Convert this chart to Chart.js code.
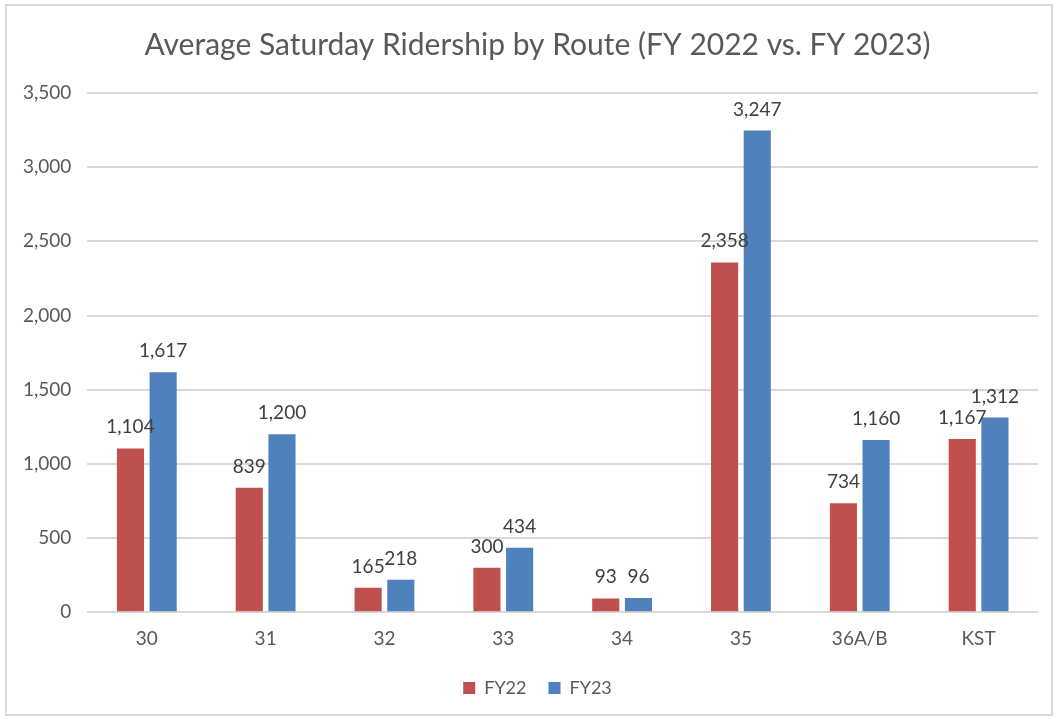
<!DOCTYPE html>
<html>
<head>
<meta charset="utf-8">
<script src="https://cdn.jsdelivr.net/npm/chart.js@4"></script>
<style>
    body { margin: 0; background: #fff; }
    #box {
        position: absolute;
        left: 5px; top: 4px;
        width: 1044px; height: 708px;
        border: 2px solid #d9d9d9;
        background: #fff;
    }
</style>
</head>
<body>
<div id="box"><canvas id="ridershipChart"></canvas></div>
<script>
const routes = ['30', '31', '32', '33', '34', '35', '36A/B', 'KST'];
const fy22 = [1104, 839, 165, 300, 93, 2358, 734, 1167];
const fy23 = [1617, 1200, 218, 434, 96, 3247, 1160, 1312];

const FONT = 'Lato, Carlito, Calibri, sans-serif';

// draws the number above each bar
const barLabels = {
    id: 'barLabels',
    afterLayout(chart) {
        // y labels sit partly in the left padding, widen the label clip box
        chart.scales.y.left -= 30;
    },
    afterDatasetsDraw(chart) {
        const ctx = chart.ctx;
        ctx.save();
        ctx.font = '19px ' + FONT;
        ctx.fillStyle = '#404040';
        ctx.textAlign = 'center';
        ctx.textBaseline = 'alphabetic';
        chart.data.datasets.forEach((ds, i) => {
            chart.getDatasetMeta(i).data.forEach((bar, j) => {
                ctx.fillText(ds.data[j].toLocaleString('en-US'), bar.x, bar.y - 15);
            });
        });
        ctx.restore();
    }
};

window.onload = () => {
    const ctx = document.getElementById('ridershipChart').getContext('2d');
    new Chart(ctx, {
        type: 'bar',
        data: {
            labels: routes,
            datasets: [
                { label: 'FY22', data: fy22, backgroundColor: '#c0504d' },
                { label: 'FY23', data: fy23, backgroundColor: '#4f81bd' }
            ]
        },
        options: {
            responsive: true,
            maintainAspectRatio: false,
            animation: false,
            categoryPercentage: 0.55,
            barPercentage: 0.83,
            layout: { padding: { left: 30, right: 13, top: 12, bottom: 7 } },
            plugins: {
                title: {
                    display: true,
                    text: 'Average Saturday Ridership by Route (FY 2022 vs. FY 2023)',
                    color: '#595959',
                    font: { family: FONT, size: 30, weight: 'normal' },
                    padding: { top: 9, bottom: 30 }
                },
                legend: {
                    position: 'bottom',
                    labels: {
                        color: '#595959',
                        font: { family: FONT, size: 18 },
                        boxWidth: 12,
                        boxHeight: 12,
                        padding: 22
                    }
                },
                tooltip: { enabled: false }
            },
            scales: {
                x: {
                    grid: { display: false },
                    border: { display: false },
                    ticks: { color: '#595959', font: { family: FONT, size: 19 }, padding: 7 }
                },
                y: {
                    min: 0,
                    max: 3500,
                    afterFit: scale => { scale.width -= 30; },
                    ticks: {
                        stepSize: 500,
                        color: '#595959',
                        font: { family: FONT, size: 19 },
                        padding: 16,
                        callback: v => v.toLocaleString('en-US')
                    },
                    grid: { color: '#d9d9d9', lineWidth: 2, drawTicks: false },
                    border: { display: false }
                }
            }
        },
        plugins: [barLabels]
    });
};
</script>
</body>
</html>
